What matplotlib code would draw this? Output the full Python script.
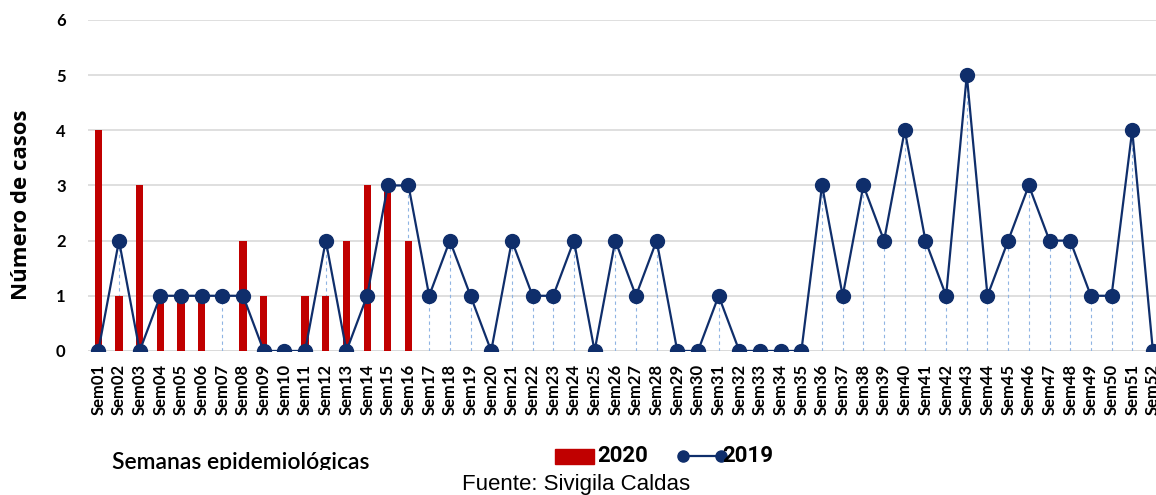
import matplotlib.pyplot as plt
from matplotlib.patches import Rectangle
from matplotlib.lines import Line2D

# weekly case counts
semanas = ['Sem%02d' % i for i in range(1, 53)]
casos_2020 = [4, 1, 3, 1, 1, 1, 0, 2, 1, 0, 1, 1, 2, 3, 3, 2] + [0] * 36
casos_2019 = [0, 2, 0, 1, 1, 1, 1, 1, 0, 0, 0, 2, 0, 1, 3, 3, 1, 2, 1, 0,
              2, 1, 1, 2, 0, 2, 1, 2, 0, 0, 1, 0, 0, 0, 0, 3, 1, 3, 2, 4,
              2, 1, 5, 1, 2, 3, 2, 2, 1, 1, 4, 0]

red = '#C00000'
navy = '#0F2E6B'
lab_font = ['Lato', 'DejaVu Sans']

fig = plt.figure(figsize=(11.56, 4.95), dpi=100)
ax = fig.add_axes([0.0761, 0.291, 0.9239, 0.6687])

x = list(range(len(semanas)))
ax.bar(x, casos_2020, width=0.35, color=red, zorder=2)

# drop lines from 2019 points
ax.vlines(x, 0, casos_2019, colors='#8FB4E3', linestyles=(0, (3, 3)),
          linewidth=0.8, zorder=1)
ax.plot(x, casos_2019, color=navy, linewidth=1.6, marker='o',
        markersize=10, zorder=3)

ax.set_xlim(-0.5, 51.15)
ax.set_ylim(0, 6)
ax.set_yticks(range(0, 7))
ax.grid(axis='y', color='#D9D9D9', linewidth=1.2, zorder=0)
ax.set_axisbelow(True)
for s in ['top', 'right', 'left', 'bottom']:
    ax.spines[s].set_visible(False)
ax.axhline(0, color='#D9D9D9', linewidth=1.2, zorder=0)

ax.set_xticks(x)
ax.set_xticklabels(semanas, rotation=90, fontsize=12, fontweight='bold',
                   family=lab_font)
ax.tick_params(axis='both', length=0)
ax.tick_params(axis='x', pad=9)
for t in ax.get_yticklabels():
    t.set_fontsize(12)
    t.set_fontweight('bold')
    t.set_family(lab_font)
ax.tick_params(axis='y', pad=16)

ax.set_ylabel('Número de casos', fontsize=16, fontweight='bold',
              family=['Open Sans', 'DejaVu Sans'])
ax.yaxis.set_label_coords(-0.052, 0.441)

# x axis title is cut at its baseline in the original
t = fig.text(0.097, 0.052, 'Semanas epidemiológicas', fontsize=16.5,
             family=lab_font, fontweight='semibold', va='baseline')
clip = Rectangle((0, 0.05), 1, 1, transform=fig.transFigure)
t.set_clip_path(clip)

# legend drawn by hand to mimic the compact layout
fig.patches.append(Rectangle((0.480, 0.0626), 0.034, 0.0303,
                             transform=fig.transFigure, color=red))
fig.text(0.517, 0.079, '2020', fontsize=16, fontweight='bold',
         family=['Roboto', 'DejaVu Sans'], va='center')
fig.lines.append(Line2D([0.591, 0.624], [0.079, 0.079],
                        transform=fig.transFigure, color=navy,
                        linewidth=1.6, marker='o', markersize=8))
fig.text(0.625, 0.079, '2019', fontsize=16, fontweight='bold',
         family=['Roboto', 'DejaVu Sans'], va='center')

fig.text(0.4985, 0.022, 'Fuente: Sivigila Caldas', fontsize=16,
         family=['Liberation Sans', 'DejaVu Sans'], ha='center', va='center')

fig.savefig('out.png', dpi=100)
